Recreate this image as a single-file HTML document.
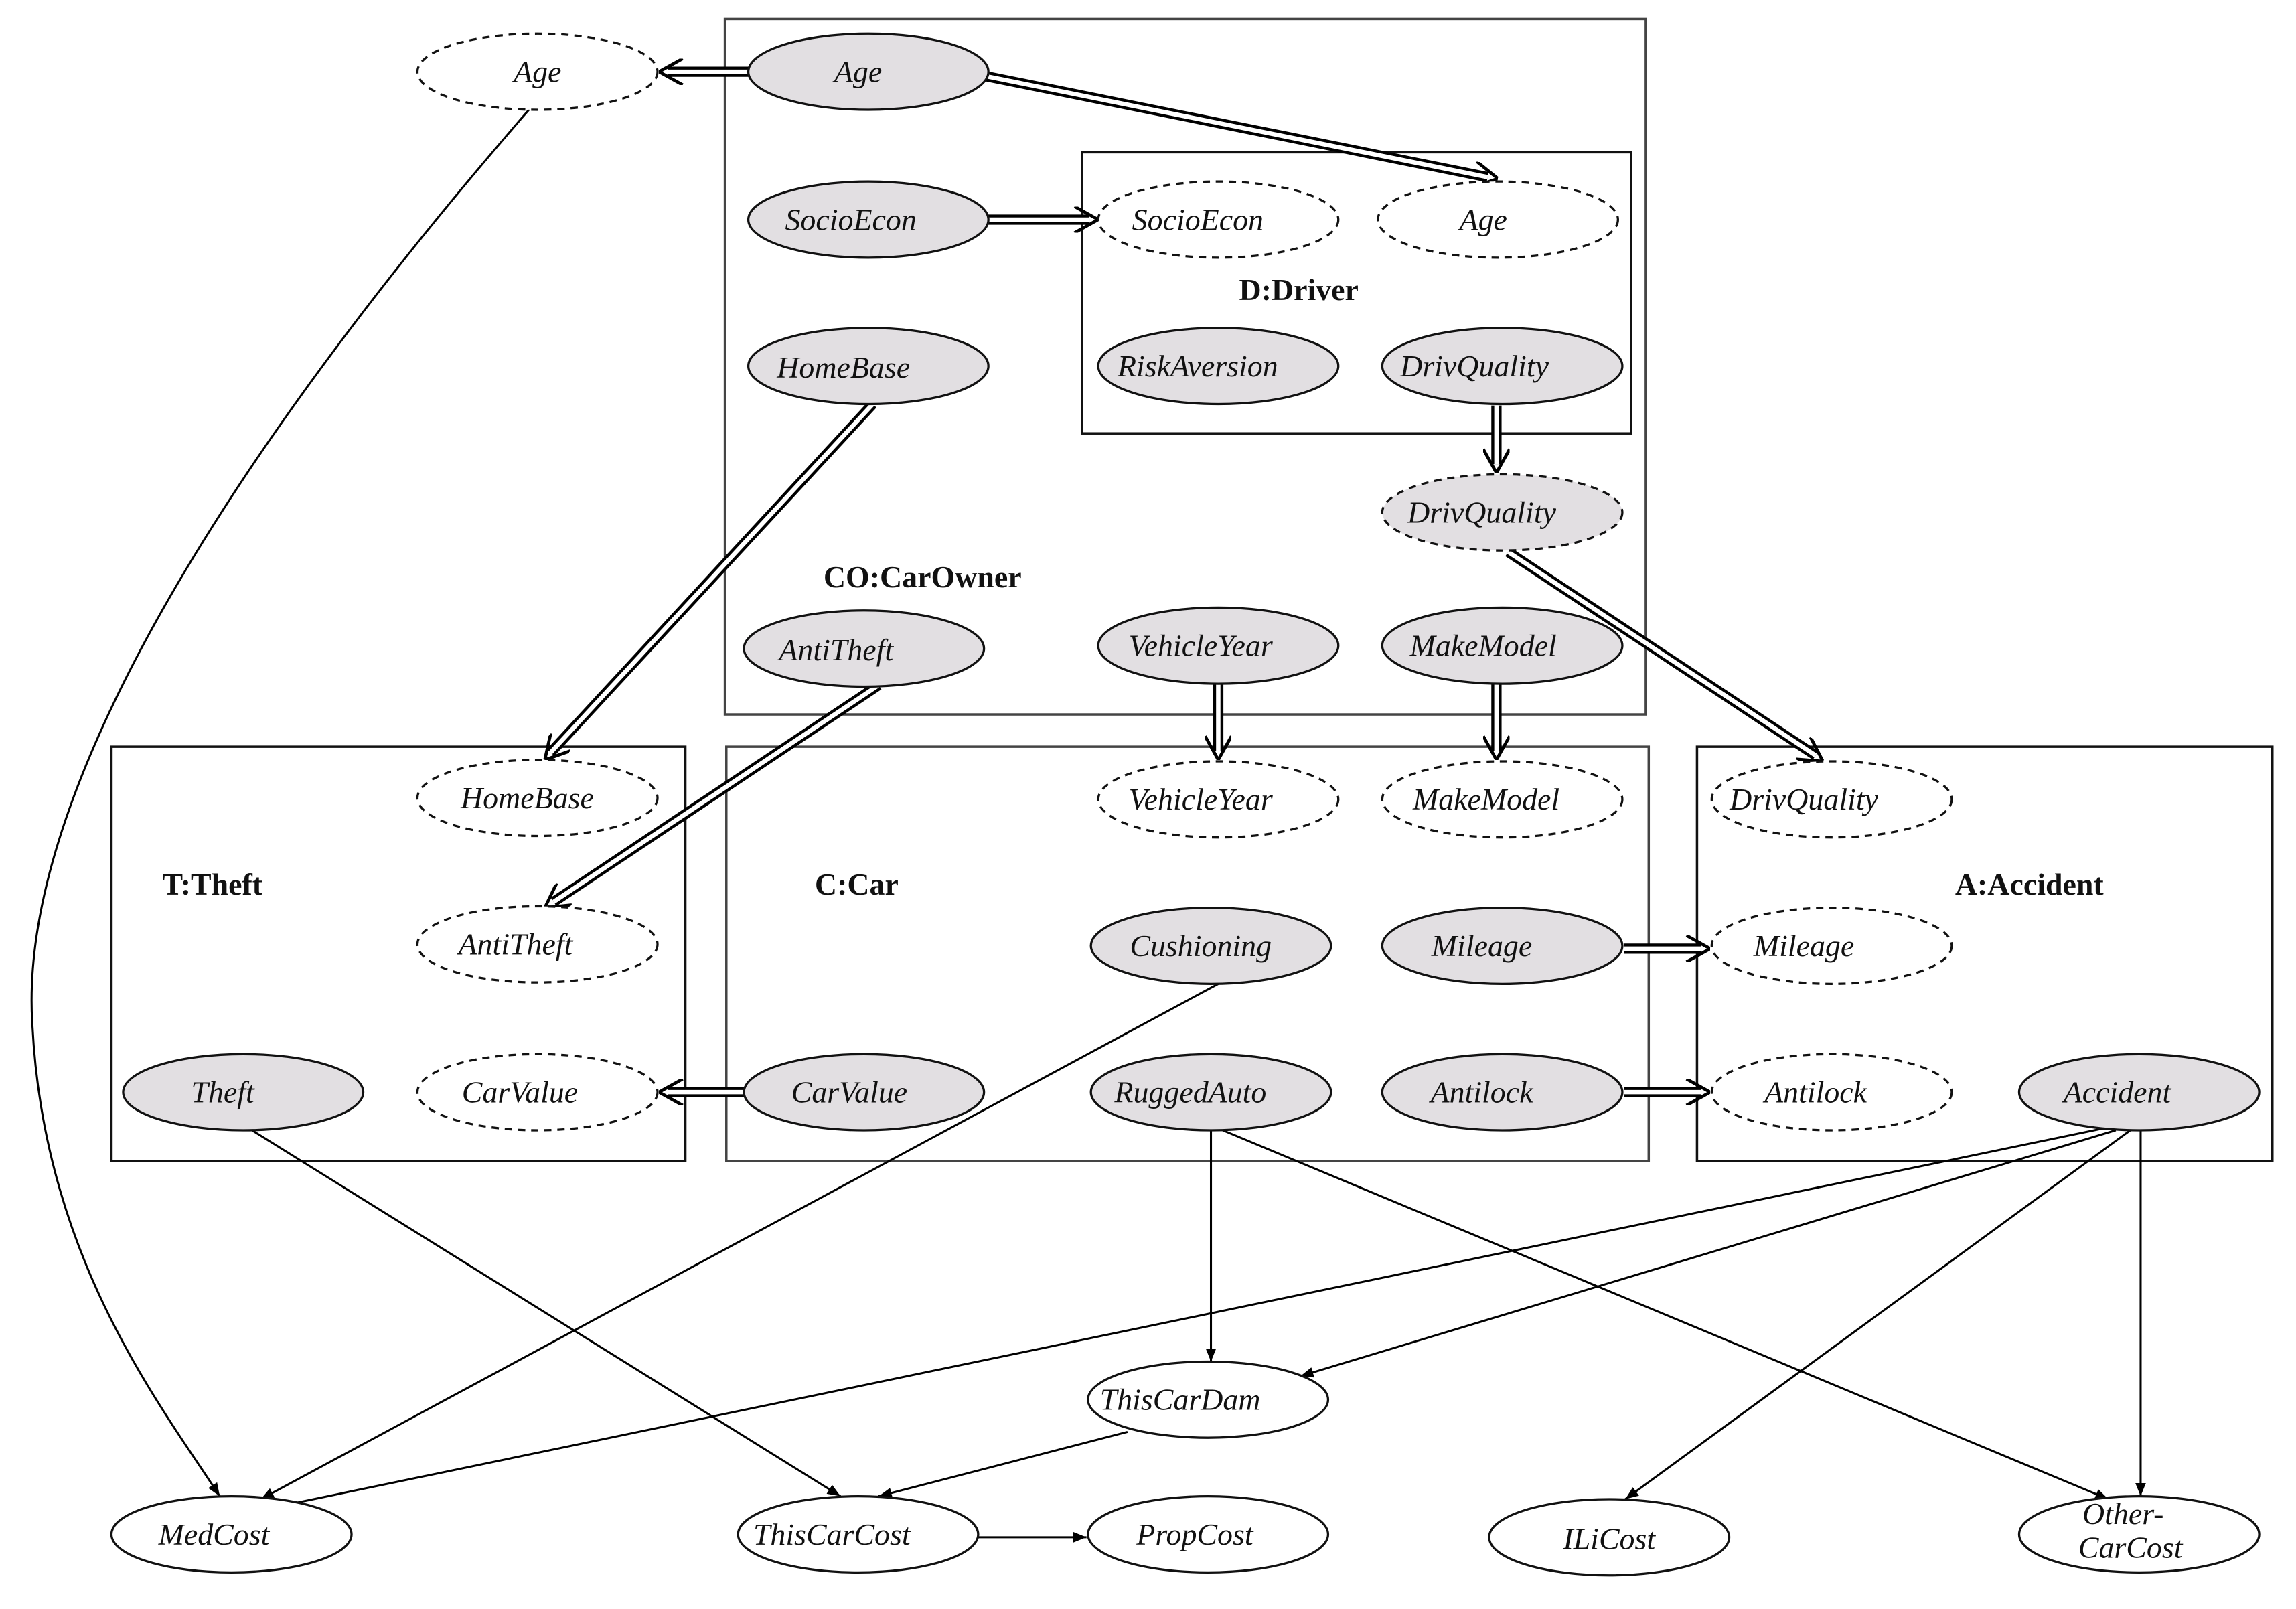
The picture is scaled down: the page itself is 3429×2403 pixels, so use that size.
<!DOCTYPE html>
<html><head><meta charset="utf-8"><style>html,body{margin:0;padding:0;background:#fff}svg{display:block}</style></head><body>
<svg width="3429" height="2403" viewBox="0 0 1568 1099" xmlns="http://www.w3.org/2000/svg">
<defs>
<marker id="a" viewBox="0 0 10 10" refX="10" refY="5" markerWidth="9" markerHeight="9" markerUnits="userSpaceOnUse" orient="auto"><path d="M0,1 L10,5 L0,9 Z" fill="#000"/></marker>
<marker id="o" viewBox="0 0 10 10" refX="10" refY="5" markerWidth="18" markerHeight="18" markerUnits="userSpaceOnUse" orient="auto"><path d="M1,0 L10,5 L1,10" fill="none" stroke="#000" stroke-width="1.2"/></marker>
</defs>
<g fill="none" stroke="#444" stroke-width="1.6">
<rect x="495" y="13" width="629" height="475"/>
<rect x="739" y="104" width="375" height="192" stroke="#111"/>
<rect x="76" y="510" width="392" height="283" stroke="#111"/>
<rect x="496" y="510" width="630" height="283"/>
<rect x="1159" y="510" width="393" height="283" stroke="#111"/>
</g>
<g font-family="Liberation Serif, serif" font-weight="bold" font-size="21" fill="#111" text-anchor="middle">
<text x="887" y="205">D:Driver</text>
<text x="630" y="401">CO:CarOwner</text>
<text x="145" y="611">T:Theft</text>
<text x="585" y="611">C:Car</text>
<text x="1386" y="611">A:Accident</text>
</g>
<!-- double arrows -->
<g fill="none" stroke-linecap="butt">
<g stroke="#000" stroke-width="7">
<path d="M511,49 L456,49"/><path d="M673,52 L1016,121"/><path d="M675,150 L744,150"/>
<path d="M596,276 L376,514"/><path d="M600,468 L378,616"/><path d="M1022,277 L1022,317"/>
<path d="M1030,377 L1240,516"/><path d="M832,467 L832,513"/><path d="M1022,467 L1022,513"/>
<path d="M1109,648 L1162,648"/><path d="M1109,746 L1162,746"/><path d="M511,746 L456,746"/>
</g>
<g stroke="#fff" stroke-width="3">
<path d="M511,49 L456,49"/><path d="M673,52 L1016,121"/><path d="M675,150 L744,150"/>
<path d="M596,276 L376,514"/><path d="M600,468 L378,616"/><path d="M1022,277 L1022,317"/>
<path d="M1030,377 L1240,516"/><path d="M832,467 L832,513"/><path d="M1022,467 L1022,513"/>
<path d="M1109,648 L1162,648"/><path d="M1109,746 L1162,746"/><path d="M511,746 L456,746"/>
</g>
<g stroke="none" marker-end="url(#o)">
<path d="M470,49 L450,49" stroke="#fff" stroke-width="0.01"/><path d="M1000,118 L1023,122" stroke="#fff" stroke-width="0.01"/>
<path d="M735,150 L750,150" stroke="#fff" stroke-width="0.01"/><path d="M380,510 L372,519" stroke="#fff" stroke-width="0.01"/>
<path d="M382,613 L372,620" stroke="#fff" stroke-width="0.01"/><path d="M1022,313 L1022,323" stroke="#fff" stroke-width="0.01"/>
<path d="M1236,514 L1245,520" stroke="#fff" stroke-width="0.01"/><path d="M832,510 L832,519" stroke="#fff" stroke-width="0.01"/>
<path d="M1022,510 L1022,519" stroke="#fff" stroke-width="0.01"/><path d="M1158,648 L1168,648" stroke="#fff" stroke-width="0.01"/>
<path d="M1158,746 L1168,746" stroke="#fff" stroke-width="0.01"/><path d="M460,746 L450,746" stroke="#fff" stroke-width="0.01"/>
</g>
</g>
<!-- single arrows -->
<g fill="none" stroke="#000" stroke-width="1.4" marker-end="url(#a)">
<path d="M362,74 C200,260 10,520 22,700 C30,860 110,960 150,1022"/>
<path d="M832,672 L178,1024"/>
<path d="M1440,770 L185,1030"/>
<path d="M172,772 L574,1022"/>
<path d="M827,772 L827,930"/>
<path d="M835,772 L1440,1024"/>
<path d="M1445,772 L888,940"/>
<path d="M1455,772 L1110,1024"/>
<path d="M1462,772 L1462,1022"/>
<path d="M770,978 L600,1022"/>
<path d="M668,1050 L742,1050"/>
</g>
<!-- nodes -->
<g stroke="#111" stroke-width="1.5">
<g fill="#e2dfe2">
<ellipse cx="593" cy="49" rx="82" ry="26"/><ellipse cx="593" cy="150" rx="82" ry="26"/>
<ellipse cx="593" cy="250" rx="82" ry="26"/><ellipse cx="590" cy="443" rx="82" ry="26"/>
<ellipse cx="832" cy="441" rx="82" ry="26"/><ellipse cx="1026" cy="441" rx="82" ry="26"/>
<ellipse cx="832" cy="250" rx="82" ry="26"/><ellipse cx="1026" cy="250" rx="82" ry="26"/>
<ellipse cx="166" cy="746" rx="82" ry="26"/><ellipse cx="827" cy="646" rx="82" ry="26"/>
<ellipse cx="1026" cy="646" rx="82" ry="26"/><ellipse cx="590" cy="746" rx="82" ry="26"/>
<ellipse cx="827" cy="746" rx="82" ry="26"/><ellipse cx="1026" cy="746" rx="82" ry="26"/>
<ellipse cx="1461" cy="746" rx="82" ry="26"/>
<ellipse cx="1026" cy="350" rx="82" ry="26" stroke-dasharray="5,4"/>
</g>
<g fill="#fff" stroke-dasharray="5,4">
<ellipse cx="367" cy="49" rx="82" ry="26"/><ellipse cx="832" cy="150" rx="82" ry="26"/>
<ellipse cx="1023" cy="150" rx="82" ry="26"/><ellipse cx="367" cy="545" rx="82" ry="26"/>
<ellipse cx="367" cy="645" rx="82" ry="26"/><ellipse cx="367" cy="746" rx="82" ry="26"/>
<ellipse cx="832" cy="546" rx="82" ry="26"/><ellipse cx="1026" cy="546" rx="82" ry="26"/>
<ellipse cx="1251" cy="546" rx="82" ry="26"/><ellipse cx="1251" cy="646" rx="82" ry="26"/>
<ellipse cx="1251" cy="746" rx="82" ry="26"/>
</g>
<g fill="#fff">
<ellipse cx="825" cy="956" rx="82" ry="26"/><ellipse cx="158" cy="1048" rx="82" ry="26"/>
<ellipse cx="586" cy="1048" rx="82" ry="26"/><ellipse cx="825" cy="1048" rx="82" ry="26"/>
<ellipse cx="1099" cy="1050" rx="82" ry="26"/><ellipse cx="1461" cy="1048" rx="82" ry="26"/>
</g>
</g>
<g font-family="Liberation Serif, serif" font-style="italic" font-size="21" fill="#111" text-anchor="middle">
<text x="367" y="56">Age</text><text x="586" y="56">Age</text>
<text x="581" y="157">SocioEcon</text><text x="576" y="258">HomeBase</text>
<text x="571" y="451">AntiTheft</text><text x="820" y="448">VehicleYear</text>
<text x="1013" y="448">MakeModel</text><text x="818" y="157">SocioEcon</text>
<text x="1013" y="157">Age</text><text x="818" y="257">RiskAversion</text>
<text x="1007" y="257">DrivQuality</text><text x="1012" y="357">DrivQuality</text>
<text x="360" y="552">HomeBase</text><text x="352" y="652">AntiTheft</text>
<text x="355" y="753">CarValue</text><text x="152" y="753">Theft</text>
<text x="820" y="553">VehicleYear</text><text x="1015" y="553">MakeModel</text>
<text x="820" y="653">Cushioning</text><text x="1012" y="653">Mileage</text>
<text x="580" y="753">CarValue</text><text x="813" y="753">RuggedAuto</text>
<text x="1012" y="753">Antilock</text><text x="1232" y="553">DrivQuality</text>
<text x="1232" y="653">Mileage</text><text x="1240" y="753">Antilock</text>
<text x="1446" y="753">Accident</text><text x="806" y="963">ThisCarDam</text>
<text x="146" y="1055">MedCost</text><text x="568" y="1055">ThisCarCost</text>
<text x="816" y="1055">PropCost</text><text x="1099" y="1058">ILiCost</text>
<text x="1450" y="1041">Other-</text><text x="1455" y="1064">CarCost</text>
</g>
</svg>
</body></html>
